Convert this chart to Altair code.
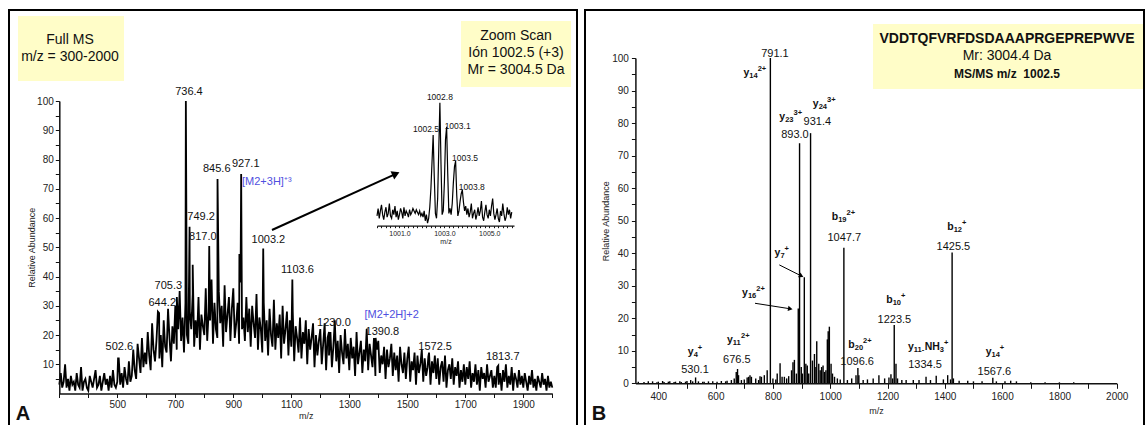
import altair as alt
import pandas as pd

FONT = "Liberation Sans"

# ---------------- Panel A : Full MS profile (sampled every 5 m/z, 300-2000)
A_START, A_STEP = 300, 5
A_INTENSITY = [
    3, 7, 2, 4, 10, 2, 5, 1, 6, 3, 4, 1, 7, 3, 2, 9, 1, 4, 5, 2,                  # 300
    1, 6, 4, 2, 5, 8, 2, 3, 6, 1, 4, 7, 3, 5, 1, 6, 2, 8, 3, 2,                   # 400
    4, 12, 3, 7, 2, 9, 5, 3, 11, 4, 6, 15, 8, 5, 17, 12, 7, 19, 9, 14,            # 500
    10, 21, 13, 8, 24, 15, 11, 18, 28, 12, 20, 9, 25, 16, 14, 29, 19, 11, 23, 17, # 600
    30, 15, 22, 35, 18, 26, 14, 31, 20, 17, 28, 22, 34, 16, 25, 19, 33, 15, 27, 23,  # 700
    20, 36, 18, 28, 25, 39, 17, 31, 22, 19, 35, 24, 30, 16, 37, 21, 27, 33, 18, 29,  # 800
    36, 19, 24, 31, 17, 38, 22, 26, 18, 33, 21, 29, 16, 30, 24, 19, 34, 15, 26, 22,  # 900
    14, 31, 18, 25, 13, 29, 20, 16, 32, 15, 24, 19, 27, 12, 30, 17, 22, 28, 13, 25,  # 1000
    16, 28, 11, 23, 19, 14, 26, 12, 21, 17, 25, 10, 22, 15, 19, 24, 9, 20, 13, 18,   # 1100
    22, 10, 17, 24, 8, 19, 13, 21, 9, 16, 25, 11, 18, 7, 20, 14, 10, 22, 12, 17,     # 1200
    8, 19, 12, 16, 6, 21, 10, 14, 18, 7, 15, 11, 22, 8, 17, 13, 9, 19, 6, 15,        # 1300
    18, 7, 13, 10, 16, 5, 15, 9, 12, 17, 6, 14, 8, 13, 4, 16, 10, 7, 14, 5,          # 1400
    12, 16, 4, 11, 8, 14, 3, 13, 7, 10, 15, 4, 12, 6, 9, 14, 3, 11, 7, 13,           # 1500
    5, 12, 3, 9, 11, 4, 13, 2, 8, 10, 5, 12, 3, 9, 6, 11, 2, 8, 4, 10,               # 1600
    3, 9, 5, 11, 2, 7, 4, 10, 3, 8, 1, 9, 5, 7, 2, 10, 4, 6, 8, 2,                   # 1700
    6, 2, 9, 3, 7, 1, 8, 4, 10, 2, 6, 3, 9, 1, 7, 5, 2, 8, 3, 6,                     # 1800
    2, 7, 4, 1, 6, 3, 8, 2, 5, 1, 6, 4, 2, 7, 3, 5, 1, 6, 2, 4,                      # 1900
    2,                                                                               # 2000
]
A_PEAK_MZ = [502.6, 644.2, 705.3, 736.4, 749.2, 760.0, 817.0, 845.6, 921.0, 927.1,
             1003.2, 1103.6, 1230.0, 1390.8, 1572.5, 1813.7]
A_PEAK_INT = [12, 27.5, 33, 100, 57, 44, 50.4, 73.3, 47.7, 75,
              49.6, 39, 21, 19, 12.6, 9.5]
A_LABELS = ["736.4", "845.6", "927.1", "749.2", "817.0", "1003.2", "705.3", "644.2",
            "502.6", "1103.6", "1230.0", "1390.8", "1572.5", "1813.7"]
A_LABEL_MZ = [747, 843, 943, 789, 795, 1021, 676, 655, 507, 1121, 1247, 1414, 1596, 1829]
A_LABEL_AB = [103, 76.8, 78.3, 60.4, 53.6, 52.5, 36.8, 30.9, 15.9, 42.2, 24.1, 21.0, 15.9, 12.5]
A_ION_TEXT = ["[M2+3H]\u207a\u00b3", "[M2+2H]+2"]

# ---------------- Inset : zoom scan (sampled every 0.05 m/z, 1000-1006)
I_START, I_STEP = 1000.0, 0.05
I_INTENSITY = [
    8, 14, 6, 12, 17, 9, 5, 11, 15, 7,
    10, 18, 8, 6, 13, 9, 16, 7, 12, 5,
    9, 14, 11, 6, 15, 8, 12, 10, 7, 13,
    9, 11, 14, 12, 10, 13, 11, 9, 12, 8,
    10, 7, 12, 4, 9, 2, 6, 15, 30, 52,
    73.7, 40, 10, 6, 22, 62, 100, 50, 9, 12,
    35, 70, 80.5, 42, 10, 14, 9, 18, 35, 48,
    52.6, 25, 8, 12, 20, 26, 29, 19, 12, 16,
    9, 14, 7, 11, 18, 6, 10, 13, 5, 9,
    15, 8, 12, 20, 7, 4, 11, 17, 9, 6,
    13, 8, 16, 22, 10, 5, 9, 14, 6, 3,
    12, 8, 18, 10, 4, 7, 15, 9, 13, 6, 11,
]
I_LABELS = ["1002.8", "1002.5", "1003.1", "1003.5", "1003.8"]
I_LABEL_MZ = [1002.80, 1002.18, 1003.59, 1003.92, 1004.22]
I_LABEL_AB = [105, 78.6, 80.7, 55.2, 31.3]

# ---------------- Panel B : MS/MS centroid spectrum
B_MZ = [330, 350, 365, 380, 395, 400, 415, 420, 435, 440,
        455, 460, 475, 480, 495, 500, 513, 520, 530.1, 540,
        555, 560, 575, 590, 605, 620, 635, 640, 655, 665,
        672, 676.5, 680, 690, 700, 710, 715, 720, 725, 740,
        750, 755, 760, 770, 780, 791.1, 800, 810, 815, 825,
        832, 840, 848, 855, 865, 870, 875, 882, 888.5, 893.0,
        899, 903, 909.6, 915, 920, 925, 931.4, 938, 945, 950,
        953, 960, 965, 970, 975, 980, 985, 990, 993, 997,
        1003, 1008, 1015, 1025, 1035, 1047.7, 1060, 1075, 1090, 1096.6,
        1100, 1115, 1130, 1150, 1170, 1190, 1205, 1212, 1218, 1223.5,
        1229.6, 1235, 1250, 1265, 1290, 1310, 1334.5, 1350, 1370, 1395,
        1410, 1420, 1425.5, 1430, 1450, 1480, 1500, 1530, 1567.6, 1580,
        1610, 1630, 1650, 1700, 1750, 1800, 1850]
B_INT = [0.5, 0.4, 0.6, 0.6, 0.3, 0.5, 0.7, 0.4, 0.5, 0.6,
         0.4, 0.5, 0.6, 0.4, 0.5, 0.7, 1.0, 0.6, 1.8, 0.6,
         0.5, 0.5, 0.6, 0.6, 0.5, 0.7, 0.6, 0.8, 1.0, 1.5,
         3.5, 4.4, 2.5, 1.0, 1.2, 1.8, 2.0, 2.5, 2.0, 1.5,
         1.0, 2.2, 2.0, 2.5, 4.0, 100, 1.5, 1.2, 3.0, 6.2,
         2.0, 2.0, 1.5, 2.2, 4.0, 6.5, 7.2, 3.0, 23, 73.8,
         5, 3, 32.6, 6, 5.5, 3, 76.9, 7, 9, 5,
         12.9, 6, 4, 5, 5.5, 3.5, 4, 13.5, 16, 17.4,
         6, 3, 2, 1.5, 1.2, 41.7, 1, 1.5, 2.5, 4.7,
         2.5, 1, 1.2, 1.5, 2.5, 1.5, 1.8, 2.8, 1.5, 17.9,
         6, 1.5, 1, 1, 1, 1, 2, 1, 2.3, 1.2,
         2.5, 1.2, 40.2, 1.5, 0.8, 0.8, 0.6, 0.6, 1.7, 0.6,
         0.6, 0.8, 0.6, 0.3, 0.3, 0.3, 0.3]
B_NUM_LABELS = ["791.1", "893.0", "931.4", "1047.7", "676.5", "530.1", "1096.6",
                "1223.5", "1334.5", "1425.5", "1567.6"]
B_NUM_MZ = [807, 877, 955, 1049, 674, 528, 1094, 1224, 1331, 1430, 1573]
B_NUM_AB = [101.3, 76.4, 80.4, 44.7, 7.2, 4.1, 6.6, 19.5, 5.6, 41.9, 3.5]
# ion labels: segments of (text, kind) with kind = base / sub / sup
B_ION_SEGMENTS = [
    [("y", "base"), ("14", "sub"), ("2+", "sup")],
    [("y", "base"), ("23", "sub"), ("3+", "sup")],
    [("y", "base"), ("24", "sub"), ("3+", "sup")],
    [("b", "base"), ("19", "sub"), ("2+", "sup")],
    [("y", "base"), ("7", "sub"), ("+", "sup")],
    [("y", "base"), ("16", "sub"), ("2+", "sup")],
    [("y", "base"), ("11", "sub"), ("2+", "sup")],
    [("y", "base"), ("4", "sub"), ("+", "sup")],
    [("b", "base"), ("20", "sub"), ("2+", "sup")],
    [("b", "base"), ("10", "sub"), ("+", "sup")],
    [("y", "base"), ("11-", "sub"), ("NH", "base"), ("3", "sub"), ("+", "sup")],
    [("b", "base"), ("12", "sub"), ("+", "sup")],
    [("y", "base"), ("14", "sub"), ("+", "sup")],
]
B_ION_MZ = [737, 862, 979, 1046, 831, 732, 679, 528, 1104, 1229, 1342, 1442, 1575]
B_ION_AB = [95.5, 81.9, 85.9, 51.2, 40.1, 27.8, 13.3, 9.6, 11.8, 25.6, 11.2, 48.1, 9.6]

# ---------------- scales (explicit pixel ranges on a single 1147x425 canvas)
XA_RANGE, XB_RANGE = [59.3, 552.3], [635.4, 1116.7]
xA = alt.Scale(domain=[300, 2000], range=XA_RANGE, nice=False, zero=False)
yA = alt.Scale(domain=[0, 100], range=[393.5, 101], nice=False, zero=False)
xI = alt.Scale(domain=[1000, 1006.1], range=[377, 514], nice=False, zero=False)
yI = alt.Scale(domain=[0, 100], range=[225.7, 102.7], nice=False, zero=False)
xB = alt.Scale(domain=[320, 2000], range=XB_RANGE, nice=False, zero=False)
yB = alt.Scale(domain=[0, 100], range=[383.3, 58], nice=False, zero=False)
PPU_B = (XB_RANGE[1] - XB_RANGE[0]) / (2000 - 320)

common = dict(grid=False, domainColor="#111", tickColor="#111", labelColor="#222",
              labelFont=FONT, titleFont=FONT, titleFontWeight="normal", titleColor="#222",
              labelOverlap=False, labelFlush=False, labelBound=False, zindex=2)

axA_x = alt.Axis(orient="bottom", offset=393.5 - 425, values=list(range(300, 2001, 100)),
                 labelExpr="(datum.value - 100) % 200 == 0 && datum.value >= 500 && datum.value <= 1900 ? datum.label : ''",
                 tickSize=4, labelFontSize=10, labelPadding=2, domainWidth=1.5,
                 title="m/z", titleFontSize=9, titlePadding=2, format="d", **common)
axA_y = alt.Axis(orient="left", offset=-59.3, values=list(range(5, 101, 5)),
                 labelExpr="datum.value % 10 == 0 ? datum.label : ''",
                 tickSize=4, labelFontSize=10, labelPadding=2, domainWidth=1.5,
                 title="Relative Abundance", titleFontSize=9, titlePadding=0, **common)
axI_x = alt.Axis(orient="bottom", offset=225.7 - 425, values=[round(1000 + 0.2 * i, 1) for i in range(31)],
                 labelExpr="(abs(datum.value-1001)<0.01 || abs(datum.value-1003)<0.01 || abs(datum.value-1005)<0.01) ? format(datum.value, '.1f') : ''",
                 tickSize=2, labelFontSize=7, labelPadding=2, domainWidth=1.2,
                 title="m/z", titleFontSize=7, titlePadding=1, **common)
axB_x = alt.Axis(orient="bottom", offset=383.3 - 425, values=list(range(400, 2001, 100)),
                 labelExpr="datum.value % 200 == 0 ? datum.label : ''",
                 tickSize=5, labelFontSize=10, labelPadding=3, domainWidth=1.5,
                 title="m/z", titleFontSize=9, titlePadding=5, format="d", **common)
axB_y = alt.Axis(orient="left", offset=-635.4, values=list(range(0, 101, 5)),
                 labelExpr="datum.value % 10 == 0 ? datum.label : ''",
                 tickSize=4, labelFontSize=10, labelPadding=3, domainWidth=1.5,
                 title="Relative Abundance", titleFontSize=9, titlePadding=1, **common)

# every layer of a panel carries the same axis definition so that the shared axis survives merging
PANEL_A = dict(xs=xA, ys=yA, xa=axA_x, ya=axA_y)
PANEL_I = dict(xs=xI, ys=yI, xa=axI_x, ya=None)
PANEL_B = dict(xs=xB, ys=yB, xa=axB_x, ya=axB_y)


def enc(p, xf="x", yf="y"):
    return dict(x=alt.X(f"{xf}:Q", scale=p["xs"], axis=p["xa"]),
                y=alt.Y(f"{yf}:Q", scale=p["ys"], axis=p["ya"]))


def data_text(texts, xs, ys, p, size, weight="normal", align="center", color="#111", dy=0):
    df = pd.DataFrame({"t": texts, "x": xs, "y": ys})
    return alt.Chart(df).mark_text(font=FONT, fontSize=size, fontWeight=weight, align=align,
                                   baseline="middle", color=color, dy=dy).encode(
        text="t:N", **enc(p))


def px_text(texts, xs, ys, size, weight="normal", align="center", color="#111"):
    df = pd.DataFrame({"t": texts, "x": xs, "y": ys})
    return alt.Chart(df).mark_text(font=FONT, fontSize=size, fontWeight=weight, align=align,
                                   baseline="middle", color=color).encode(
        x=alt.X("x:Q", scale=None, axis=None),
        y=alt.Y("y:Q", scale=None, axis=None),
        text="t:N")


def arrow(xs, ys, p, width, head_size, head_angle):
    df = pd.DataFrame({"x": xs, "y": ys})
    line = alt.Chart(df).mark_line(color="black", strokeWidth=width).encode(**enc(p))
    head = alt.Chart(df.iloc[[-1]]).mark_point(shape="triangle-right", filled=True, size=head_size,
                                               angle=head_angle, color="black", opacity=1).encode(**enc(p))
    return [line, head]


# ---------------- decorations (pixel coordinates)
frames_df = pd.DataFrame({"x": [9, 585], "x2": [577, 1144], "y": [10, 10], "y2": [440, 440]})
frames = alt.Chart(frames_df).mark_rect(filled=False, color="black", strokeWidth=2).encode(
    x=alt.X("x:Q", scale=None, axis=None), x2="x2:Q",
    y=alt.Y("y:Q", scale=None, axis=None), y2="y2:Q")
boxes_df = pd.DataFrame({"x": [18, 461, 873], "x2": [124, 571, 1143], "y": [16, 21, 24], "y2": [81, 87, 89]})
boxes = alt.Chart(boxes_df).mark_rect(color="#FFFDC8").encode(
    x=alt.X("x:Q", scale=None, axis=None), x2="x2:Q",
    y=alt.Y("y:Q", scale=None, axis=None), y2="y2:Q")
box_text = px_text(["Full MS", "m/z = 300-2000", "Zoom Scan", "I\u00f3n 1002.5 (+3)", "Mr = 3004.5 Da", "Mr: 3004.4 Da"],
                   [70, 70, 516, 516, 516, 1007], [39.5, 57, 36, 53, 70, 56], 14)
seq_text = px_text(["VDDTQFVRFDSDAAAPRGEPREPWVE"], [1007], [39], 14, weight="bold")
msms_text = px_text(["MS/MS m/z\u00a0 1002.5"], [1007], [74], 12, weight="bold")
letters = px_text(["A", "B"], [23, 599], [414, 414], 20, weight="bold")

# ---------------- panel A
grass = pd.DataFrame({"x": [A_START + A_STEP * i for i in range(len(A_INTENSITY))], "y": A_INTENSITY})
peaks = pd.DataFrame({"x": A_PEAK_MZ, "y": A_PEAK_INT})
a_df = pd.concat([grass, peaks]).sort_values("x").reset_index(drop=True)
a_line = alt.Chart(a_df).mark_line(color="black", strokeWidth=1.8).encode(**enc(PANEL_A))
a_labels = data_text(A_LABELS, A_LABEL_MZ, A_LABEL_AB, PANEL_A, 11)
a_blue1 = data_text([A_ION_TEXT[0]], [930], [72.2], PANEL_A, 11, align="left", color="#4F4FE0")
a_blue2 = data_text([A_ION_TEXT[1]], [1446], [26.8], PANEL_A, 11, color="#4F4FE0")
a_arrow = arrow([1033.4, 1460.7], [55.9, 75.1], PANEL_A, 2, 80, 335.6)
panelA = alt.layer(a_line, a_labels, a_blue1, a_blue2, *a_arrow)

# ---------------- inset
i_df = pd.DataFrame({"x": [round(I_START + I_STEP * i, 2) for i in range(len(I_INTENSITY))], "y": I_INTENSITY})
i_line = alt.Chart(i_df).mark_line(color="black", strokeWidth=1.2).encode(**enc(PANEL_I))
i_labels = data_text(I_LABELS, I_LABEL_MZ, I_LABEL_AB, PANEL_I, 8.5)
inset = alt.layer(i_line, i_labels)

# ---------------- panel B
b_df = pd.DataFrame({"x": B_MZ, "y": B_INT})
b_rules = alt.Chart(b_df).mark_rule(color="black", strokeWidth=1.4).encode(
    y2=alt.datum(0), **enc(PANEL_B))
b_nums = data_text(B_NUM_LABELS, B_NUM_MZ, B_NUM_AB, PANEL_B, 11)

# ion labels with sub- and superscripts, laid out segment by segment
BOLD_W = {"y": .556, "b": .611, "N": .722, "H": .722, "+": .584, "-": .333}
SEG_SIZE = {"base": 10.5, "sub": 7.5, "sup": 7.5}
SEG_DY = {"base": 0, "sub": 3, "sup": -4}
seg_rows = {"base": [], "sub": [], "sup": []}
for segs, mz, ab in zip(B_ION_SEGMENTS, B_ION_MZ, B_ION_AB):
    widths = [sum(BOLD_W.get(c, .556) for c in t) * SEG_SIZE[k] for t, k in segs]
    cursor = -sum(widths) / 2
    for (t, k), w in zip(segs, widths):
        seg_rows[k].append((t, mz + cursor / PPU_B, ab))
        cursor += w
b_ion_layers = []
for k, rows in seg_rows.items():
    b_ion_layers.append(data_text([r[0] for r in rows], [r[1] for r in rows], [r[2] for r in rows],
                                  PANEL_B, SEG_SIZE[k], weight="bold", align="left", dy=SEG_DY[k]))
b_arrow1 = arrow([822.3, 899.1], [36.4, 33.0], PANEL_B, 1, 28, 26.5)
b_arrow2 = arrow([737.5, 860.7], [24.6, 22.9], PANEL_B, 1, 28, 8.9)
panelB = alt.layer(b_rules, b_nums, *b_ion_layers, *b_arrow1, *b_arrow2)

chart = alt.layer(frames, boxes, box_text, seq_text, msms_text, letters, panelA, inset, panelB).resolve_scale(
    x="independent", y="independent"
).properties(
    width=1147, height=425, padding=0, background="white",
    autosize=alt.AutoSizeParams(type="none"),
).configure_view(stroke=None)

chart.save("out.html", embed_options={"renderer": "svg", "actions": False})
